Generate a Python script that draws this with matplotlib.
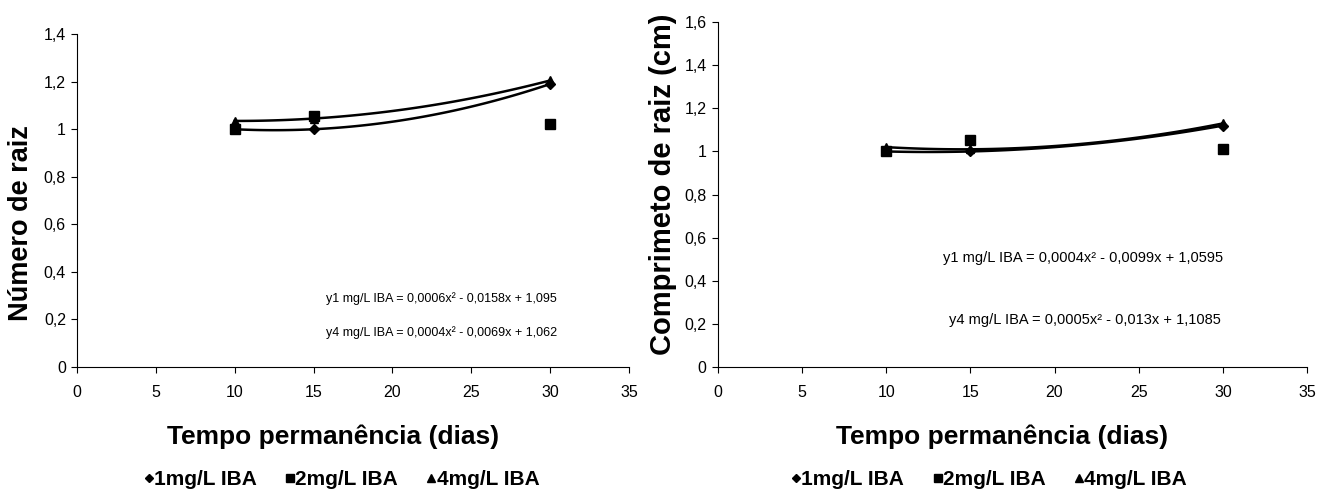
import numpy as np
import matplotlib.pyplot as plt
from matplotlib.lines import Line2D

# dados
dias = [10, 15, 30]

num_1mg = [1.00, 1.00, 1.19]
num_2mg = [1.00, 1.055, 1.02]
num_4mg = [1.035, 1.045, 1.205]

comp_1mg = [1.00, 1.00, 1.12]
comp_2mg = [1.00, 1.055, 1.01]
comp_4mg = [1.02, 1.01, 1.13]

eq_num = ['y1 mg/L IBA = 0,0006x² - 0,0158x + 1,095',
          'y4 mg/L IBA = 0,0004x² - 0,0069x + 1,062']
eq_comp = ['y1 mg/L IBA = 0,0004x² - 0,0099x + 1,0595',
           'y4 mg/L IBA = 0,0005x² - 0,013x + 1,1085']

rotulos = ['1mg/L IBA', '2mg/L IBA', '4mg/L IBA']

plt.rcParams['font.family'] = ['Liberation Sans', 'DejaVu Sans']


def virgula(v, pos):
    s = ('%.1f' % v).replace('.', ',')
    return s.replace(',0', '') if s.endswith(',0') else s


def painel(ax, y1, y2, y4, ymax, ylabel, ylab_size, eqs, eq_pos, eq_size,
           ylab_xy, xlab_xy, leg_xy):
    for ys in (y1, y4):
        c = np.polyfit(dias, ys, 2)
        xx = np.linspace(10, 30, 100)
        ax.plot(xx, np.polyval(c, xx), color='black', lw=1.8)
    ax.plot(dias, y1, 'D', color='black', ms=5)
    ax.plot(dias, y2, 's', color='black', ms=7)
    ax.plot(dias, y4, '^', color='black', ms=6)
    ax.set_xlim(0, 35)
    ax.set_ylim(0, ymax)
    ax.set_xticks(range(0, 36, 5))
    ax.set_yticks(np.arange(0, ymax + 0.01, 0.2))
    ax.yaxis.set_major_formatter(plt.FuncFormatter(virgula))
    ax.tick_params(direction='out', length=4, width=0.8, pad=9, labelsize=11.5)
    ax.tick_params(axis='y', pad=4)
    for s in ('top', 'right'):
        ax.spines[s].set_visible(False)
    ax.set_xlabel('Tempo permanência (dias)', fontsize=19, fontweight='bold')
    ax.set_ylabel(ylabel, fontsize=ylab_size, fontweight='bold')
    ax.xaxis.set_label_coords(*xlab_xy)
    ax.yaxis.set_label_coords(*ylab_xy)
    for txt, (x, y) in zip(eqs, eq_pos):
        ax.text(x, y, txt, fontsize=eq_size, ha='center', va='center')
    handles = [Line2D([], [], ls='none', marker=m, color='black', ms=s)
               for m, s in (('D', 4), ('s', 6), ('^', 6))]
    ax.legend(handles, rotulos, loc='upper center', bbox_to_anchor=leg_xy,
              ncol=3, frameon=False, handlelength=0.4, handletextpad=0.05,
              columnspacing=1.4, borderaxespad=0, prop={'weight': 'bold', 'size': 15})


fig = plt.figure(figsize=(13.17, 4.91), dpi=100)
ax1 = fig.add_axes([0.0585, 0.2525, 0.419, 0.678])
ax2 = fig.add_axes([0.545, 0.2525, 0.4475, 0.7025])

painel(ax1, num_1mg, num_2mg, num_4mg, 1.4, 'Número de raiz', 19.5, eq_num,
       [(23.1, 0.286), (23.1, 0.143)], 9,
       (-0.078, 0.431), (0.464, -0.174), (0.48, -0.285))
painel(ax2, comp_1mg, comp_2mg, comp_4mg, 1.6, 'Comprimeto de raiz (cm)', 21, eq_comp,
       [(21.7, 0.505), (21.8, 0.218)], 10.5,
       (-0.07, 0.53), (0.483, -0.168), (0.461, -0.275))

fig.savefig('out.png', dpi=100)
